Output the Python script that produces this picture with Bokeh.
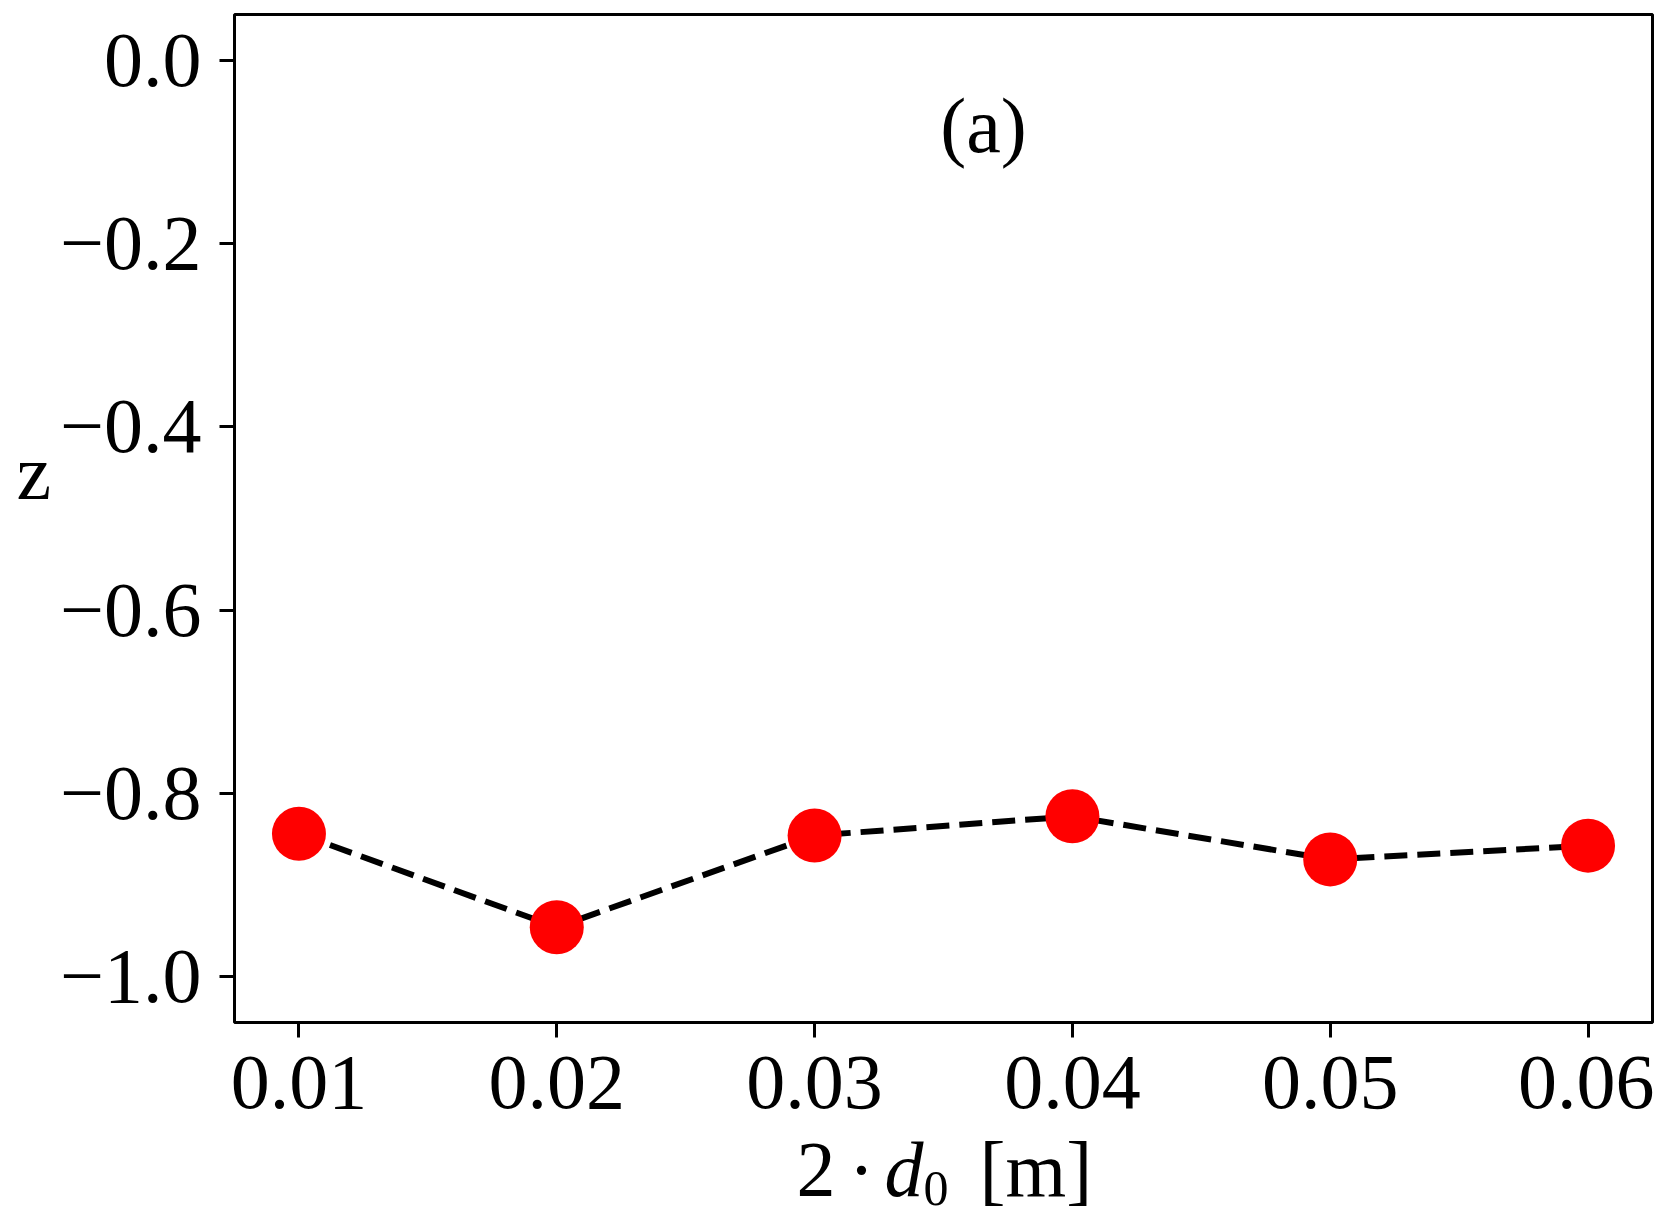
from bokeh.plotting import figure
from bokeh.layouts import column
from bokeh.models import Range1d, FixedTicker, CustomJSTickFormatter, Label
from bokeh.embed import file_html
from bokeh.resources import INLINE

# ---- data ----
x_vals = [0.01, 0.02, 0.03, 0.04, 0.05, 0.06]
z_vals = [-0.844, -0.946, -0.846, -0.825, -0.872, -0.857]

x_ticks = [0.01, 0.02, 0.03, 0.04, 0.05, 0.06]
x_tick_labels = ["0.01", "0.02", "0.03", "0.04", "0.05", "0.06"]
y_ticks = [0.0, -0.2, -0.4, -0.6, -0.8, -1.0]
y_tick_labels = ["0.0", "\u22120.2", "\u22120.4", "\u22120.6", "\u22120.8", "\u22121.0"]

x_range = (0.0075, 0.0625)
y_range = (-1.05, 0.05)

panel_label = "(a)"
y_label = "z"
x_label_parts = ["2", "\u00b7", "d", "0", "[m]"]

# ---- layout (pixels) ----
W, H = 1654, 1216
MAIN_H = 1160
STRIP_TOP = 1100
STRIP_H = H - STRIP_TOP
FL, FT, FW, FH = 234, 14, 1418, 1008   # frame left/top/width/height
FONT = "Liberation Serif"
FS = "78px"
BASE_FIX = 27   # Label alphabetic baseline correction (px)


def px_x(px):
    return x_range[0] + (px - FL) / FW * (x_range[1] - x_range[0])


def py_y(py):
    return y_range[1] - (py - FT) / FH * (y_range[1] - y_range[0])


p = figure(width=W, height=MAIN_H,
           x_range=Range1d(*x_range), y_range=Range1d(*y_range),
           output_backend="svg", toolbar_location=None,
           min_border_left=FL, min_border_right=W - (FL + FW),
           min_border_top=FT, min_border_bottom=MAIN_H - (FT + FH))
p.grid.visible = False
p.background_fill_color = "white"
p.border_fill_color = "white"
p.outline_line_color = "black"
p.outline_line_width = 3

fmt_code = """
let best = 0; let bd = 1e9;
for (let i = 0; i < vals.length; i++) {
  const d = Math.abs(vals[i] - tick);
  if (d < bd) { bd = d; best = i; }
}
return labs[best];
"""
p.xaxis.ticker = FixedTicker(ticks=x_ticks)
p.xaxis.formatter = CustomJSTickFormatter(args=dict(vals=x_ticks, labs=x_tick_labels), code=fmt_code)
p.yaxis.ticker = FixedTicker(ticks=y_ticks)
p.yaxis.formatter = CustomJSTickFormatter(args=dict(vals=y_ticks, labs=y_tick_labels), code=fmt_code)

for ax in (p.xaxis, p.yaxis):
    ax.axis_line_color = None
    ax.major_tick_line_color = "black"
    ax.major_tick_line_width = 3
    ax.major_tick_in = 0
    ax.major_tick_out = 15
    ax.minor_tick_line_color = None
    ax.major_label_text_font = FONT
    ax.major_label_text_font_size = FS
    ax.major_label_text_color = "black"
p.xaxis.major_label_standoff = 19
p.yaxis.major_label_standoff = 18

# y label "z", horizontal; the empty second line lifts it above the frame centre
p.yaxis.axis_label = y_label + "\n"
p.yaxis.axis_label_orientation = "horizontal"
p.yaxis.axis_label_text_font = FONT
p.yaxis.axis_label_text_font_size = FS
p.yaxis.axis_label_text_font_style = "normal"
p.yaxis.axis_label_text_color = "black"
p.yaxis.axis_label_text_line_height = 1.05
p.yaxis.axis_label_standoff = 6

p.line(x_vals, z_vals, line_color="black", line_width=6, line_dash="23 10")
p.scatter(x_vals, z_vals, marker="circle", size=54, fill_color="#ff0000", line_color=None)

p.add_layout(Label(x=px_x(983), y=py_y(152 - BASE_FIX), text=panel_label, text_align="center",
                   text_baseline="alphabetic", text_font=FONT, text_font_size=FS,
                   text_color="black"))

# ---- transparent strip (overlapping the main figure's bottom border) for 2 · d_0 [m] ----
# its frame is aligned with the main frame, so x is in page pixels from FL to FL+FW
s = figure(width=W, height=STRIP_H, x_range=Range1d(FL, FL + FW), y_range=Range1d(STRIP_H, 0),
           output_backend="svg", toolbar_location=None, x_axis_type=None, y_axis_type=None,
           min_border=0, margin=(STRIP_TOP - MAIN_H, 0, 0, 0))
s.grid.visible = False
s.outline_line_color = None
s.background_fill_color = None
s.border_fill_color = None


def sy(page_y, fix):
    return page_y - STRIP_TOP - fix


def piece(text, x, y, align="left", style="normal", size=FS):
    s.add_layout(Label(x=x, y=y, text=text, text_align=align, text_baseline="alphabetic",
                       text_font=FONT, text_font_style=style, text_font_size=size,
                       text_line_height=1.0, text_color="black"))


piece(x_label_parts[0], 796, sy(1196, BASE_FIX))
piece(x_label_parts[1], 861, sy(1196, BASE_FIX), align="center")
piece(x_label_parts[2], 884, sy(1196, BASE_FIX), style="italic")
piece(x_label_parts[3], 923, sy(1206, 18), size="50px")
piece(x_label_parts[4], 979, sy(1196, BASE_FIX))

layout = column(p, s, spacing=0)
open("out.html", "w").write(file_html(layout, INLINE))
